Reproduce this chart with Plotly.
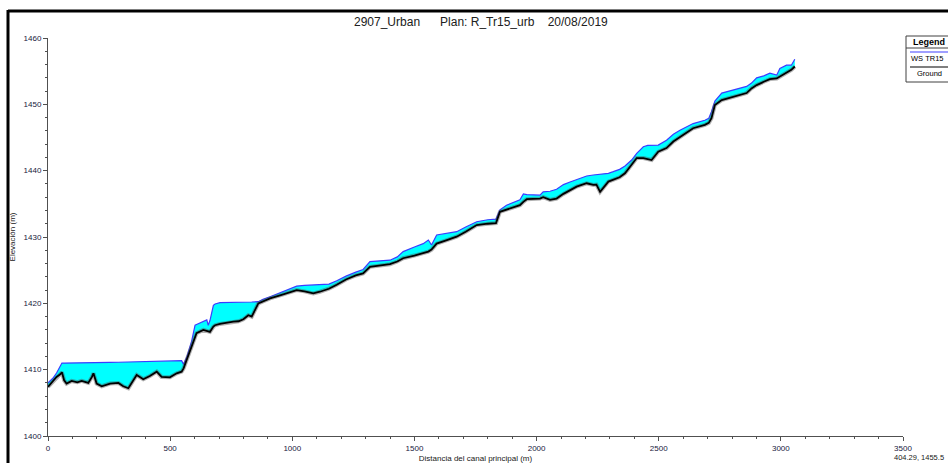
import plotly.graph_objects as go

# Longitudinal profile: station along the main channel (m), ground and water surface (m)
station = [0, 20, 35, 50, 57, 66, 76, 97, 120, 138, 165, 180, 186, 199, 220, 254, 288, 308, 329,
           363, 390, 417, 445, 465, 499, 527, 547, 555, 568, 588, 602, 608, 636, 650, 656, 663,
           677, 684, 704, 718, 740, 759, 780, 800, 820, 834, 861, 880, 909, 950, 985, 1018,
           1050, 1086, 1113, 1150, 1182, 1220, 1260, 1290, 1318, 1350, 1400, 1430, 1454, 1500,
           1536, 1557, 1570, 1591, 1630, 1673, 1710, 1755, 1800, 1834, 1850, 1877, 1932, 1946,
           1960, 2014, 2027, 2055, 2082, 2110, 2137, 2164, 2205, 2232, 2245, 2260, 2294, 2314,
           2340, 2362, 2389, 2410, 2437, 2455, 2471, 2498, 2532, 2560, 2587, 2615, 2641, 2689,
           2705, 2716, 2730, 2758, 2800, 2860, 2880, 2901, 2930, 2955, 2983, 2996, 3023, 3043,
           3057]

ground = [1407.4, 1408.2, 1408.9, 1409.3, 1409.6, 1408.4, 1407.9, 1408.3, 1408.1, 1408.3,
          1408.0, 1408.9, 1409.45, 1407.9, 1407.5, 1407.9, 1408.0, 1407.5, 1407.2, 1409.2,
          1408.55, 1409.05, 1409.7, 1408.9, 1408.85, 1409.45, 1409.7, 1410.2, 1411.5, 1413.5,
          1415.2, 1415.5, 1416.0, 1415.8, 1415.7, 1415.7, 1416.5, 1416.7, 1416.9, 1417.0,
          1417.1, 1417.25, 1417.3, 1417.6, 1418.2, 1418.0, 1420.0, 1420.3, 1420.75, 1421.2,
          1421.6, 1422.0, 1421.8, 1421.5, 1421.75, 1422.2, 1422.8, 1423.6, 1424.2, 1424.5,
          1425.5, 1425.7, 1425.9, 1426.3, 1426.8, 1427.2, 1427.55, 1427.8, 1428.1, 1429.0,
          1429.5, 1430.05, 1430.8, 1431.8, 1432.0, 1432.1, 1433.8, 1434.1, 1434.8, 1435.3,
          1435.7, 1435.8, 1436.0, 1435.6, 1435.8, 1436.5, 1437.1, 1437.6, 1438.1, 1437.85,
          1437.9, 1436.8, 1438.35, 1438.6, 1439.0, 1439.6, 1440.85, 1441.9, 1441.9, 1441.7,
          1441.6, 1442.85, 1443.4, 1444.4, 1445.1, 1445.8, 1446.4, 1446.9, 1447.2, 1447.9,
          1449.9, 1450.65, 1451.1, 1451.7, 1452.4, 1452.9, 1453.4, 1453.8, 1453.9, 1454.2,
          1454.7, 1455.2, 1455.7]

ws_tr15 = [1408.0, 1408.7, 1409.5, 1410.4, 1411.0, 1411.0, 1411.0, 1411.0, 1411.02, 1411.03,
           1411.05, 1411.05, 1411.06, 1411.08, 1411.1, 1411.1, 1411.12, 1411.14, 1411.15,
           1411.18, 1411.2, 1411.22, 1411.25, 1411.28, 1411.3, 1411.32, 1411.35, 1410.8,
           1411.9, 1414.3, 1416.7, 1416.8, 1417.2, 1417.5, 1416.7, 1417.4, 1419.7, 1419.9,
           1420.1, 1420.1, 1420.12, 1420.13, 1420.14, 1420.15, 1420.17, 1420.2, 1420.25,
           1420.6, 1421.0, 1421.6, 1422.2, 1422.6, 1422.7, 1422.8, 1422.85, 1422.9, 1423.4,
           1424.1, 1424.7, 1425.1, 1426.3, 1426.4, 1426.5, 1427.0, 1427.8, 1428.5, 1429.0,
           1429.55, 1428.8, 1430.3, 1430.5, 1430.8, 1431.5, 1432.3, 1432.6, 1432.7, 1434.1,
           1434.8, 1435.6, 1436.5, 1436.4, 1436.3, 1436.8, 1436.9, 1437.2, 1437.9, 1438.3,
           1438.7, 1439.2, 1439.35, 1439.4, 1439.45, 1439.6, 1439.85, 1440.2, 1440.7, 1441.6,
           1442.6, 1443.6, 1443.8, 1443.85, 1443.85, 1444.6, 1445.5, 1446.1, 1446.6, 1447.1,
           1447.6, 1447.9, 1448.9, 1450.5, 1451.7, 1452.1, 1452.7, 1453.2, 1454.0, 1454.3,
           1454.7, 1454.4, 1455.4, 1455.9, 1455.9, 1456.8]

x_ticks = [0, 500, 1000, 1500, 2000, 2500, 3000, 3500]
y_ticks = [1400, 1410, 1420, 1430, 1440, 1450, 1460]

FONT = "Liberation Sans, Arial, sans-serif"
NB = "\u00a0"

fig = go.Figure()

# Base of the water fill (ground, no line)
fig.add_trace(go.Scatter(x=station, y=ground, mode="lines",
                         line=dict(width=0, color="black"), hoverinfo="skip",
                         showlegend=False))
# Water surface filled down to the ground
fig.add_trace(go.Scatter(x=station, y=ws_tr15, mode="lines", fill="tonexty",
                         fillcolor="#00ffff", line=dict(color="#3c3cff", width=1.2),
                         name="WS TR15", showlegend=False))
# Ground line with a soft grey halo
fig.add_trace(go.Scatter(x=station, y=ground, mode="lines",
                         line=dict(color="rgba(80,80,80,0.45)", width=4),
                         hoverinfo="skip", showlegend=False))
fig.add_trace(go.Scatter(x=station, y=ground, mode="lines",
                         line=dict(color="black", width=1.8),
                         name="Ground", showlegend=False))

axis_common = dict(
    showgrid=False, zeroline=False, showline=True, linecolor="#505050", linewidth=1,
    ticks="outside", ticklen=4, tickcolor="#505050",
    tickfont=dict(family=FONT, size=8, color="#202040"),
)

fig.update_xaxes(range=[0, 3500], tickvals=x_ticks, ticktext=[str(v) for v in x_ticks],
                 minor=dict(ticks="outside", ticklen=2, tickcolor="#505050", dtick=100),
                 title=dict(text="Distancia del canal principal (m)",
                            font=dict(family=FONT, size=8, color="#202020"), standoff=8),
                 **axis_common)
fig.update_yaxes(range=[1400, 1460], tickvals=y_ticks, ticktext=[str(v) for v in y_ticks],
                 minor=dict(ticks="outside", ticklen=2, tickcolor="#505050", dtick=2),
                 title=dict(text="Elevación (m)",
                            font=dict(family=FONT, size=8, color="#202020"), standoff=6),
                 **axis_common)

W, H = 948, 463
L, R, T, B = 48, 45, 38, 27
pw, ph = W - L - R, H - T - B


def px(x):
    return (x - L) / pw


def py(y):
    return (H - B - y) / ph


shapes = [
    # outer frame (top and left edges)
    dict(type="line", xref="paper", yref="paper", x0=px(8), x1=px(960), y0=py(11), y1=py(11),
         line=dict(color="black", width=3)),
    dict(type="line", xref="paper", yref="paper", x0=px(8), x1=px(8), y0=py(10), y1=py(470),
         line=dict(color="black", width=3)),
    # legend box
    dict(type="rect", xref="paper", yref="paper", x0=px(906), x1=px(960), y0=py(36), y1=py(82),
         line=dict(color="#404040", width=1), fillcolor="white"),
    dict(type="line", xref="paper", yref="paper", x0=px(906), x1=px(960), y0=py(48), y1=py(48),
         line=dict(color="#404040", width=1)),
    dict(type="line", xref="paper", yref="paper", x0=px(910), x1=px(960), y0=py(52), y1=py(52),
         line=dict(color="#4040ff", width=1.2)),
    dict(type="line", xref="paper", yref="paper", x0=px(910), x1=px(960), y0=py(67), y1=py(67),
         line=dict(color="black", width=1.2)),
]

annotations = [
    dict(text=f"2907_Urban{NB*6}Plan: R_Tr15_urb{NB*4}20/08/2019", xref="paper", yref="paper",
         x=px(481), y=py(22), showarrow=False, xanchor="center", yanchor="middle",
         font=dict(family=FONT, size=12, color="#202020")),
    dict(text="<b>Legend</b>", xref="paper", yref="paper", x=px(929), y=py(42),
         showarrow=False, xanchor="center", yanchor="middle",
         font=dict(family=FONT, size=9, color="black")),
    dict(text=f"WS{NB}TR15", xref="paper", yref="paper", x=px(946), y=py(59),
         showarrow=False, xanchor="right", yanchor="middle",
         font=dict(family=FONT, size=7.5, color="black")),
    dict(text="Ground", xref="paper", yref="paper", x=px(944), y=py(74),
         showarrow=False, xanchor="right", yanchor="middle",
         font=dict(family=FONT, size=7.5, color="black")),
    dict(text="404.29, 1455.5", xref="paper", yref="paper", x=px(946), y=py(457),
         showarrow=False, xanchor="right", yanchor="middle",
         font=dict(family=FONT, size=7.5, color="#202020")),
]

fig.update_layout(
    width=W, height=H,
    margin=dict(l=L, r=R, t=T, b=B, autoexpand=False),
    paper_bgcolor="white", plot_bgcolor="white",
    shapes=shapes, annotations=annotations,
    showlegend=False,
)

fig.write_html("out.html", config={"displayModeBar": False})
